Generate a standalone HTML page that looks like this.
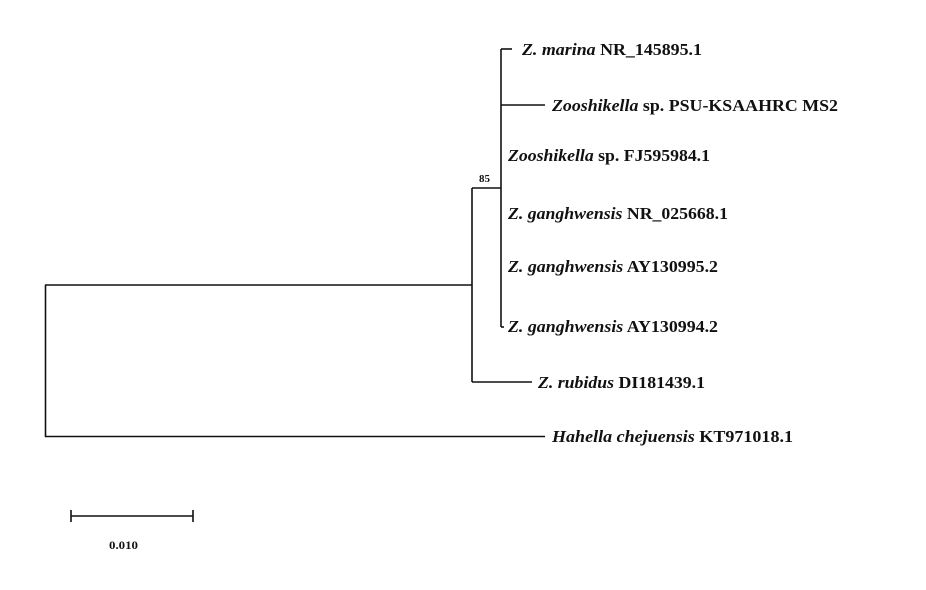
<!DOCTYPE html>
<html><head><meta charset="utf-8">
<style>
html,body{margin:0;padding:0;background:#fff;}
svg{display:block;}
text{font-family:"Liberation Serif",serif;font-weight:bold;font-size:17px;fill:#111;}
</style></head>
<body>
<svg width="926" height="590" viewBox="0 0 926 590" xmlns="http://www.w3.org/2000/svg">
<g stroke="#111" stroke-width="1.6" fill="none">
  <line x1="45.5" y1="285" x2="45.5" y2="437"/>
  <line x1="45" y1="285" x2="472" y2="285"/>
  <line x1="45" y1="436.5" x2="545" y2="436.5"/>
  <line x1="472" y1="188" x2="472" y2="382"/>
  <line x1="472" y1="188" x2="501" y2="188"/>
  <line x1="472" y1="382" x2="532" y2="382"/>
  <line x1="501" y1="49" x2="501" y2="327"/>
  <line x1="501" y1="49" x2="512" y2="49"/>
  <line x1="501" y1="105" x2="545" y2="105"/>
  <line x1="501" y1="327" x2="504" y2="327"/>
  <line x1="71" y1="516" x2="193" y2="516"/>
  <line x1="71" y1="510" x2="71" y2="522"/>
  <line x1="193" y1="510" x2="193" y2="522"/>
</g>
<text x="522" y="55" textLength="180" lengthAdjust="spacingAndGlyphs"><tspan font-style="italic">Z. marina</tspan> NR_145895.1</text>
<text x="552" y="111" textLength="286" lengthAdjust="spacingAndGlyphs"><tspan font-style="italic">Zooshikella</tspan> sp. PSU-KSAAHRC MS2</text>
<text x="508" y="161" textLength="202" lengthAdjust="spacingAndGlyphs"><tspan font-style="italic">Zooshikella</tspan> sp. FJ595984.1</text>
<text x="508" y="219" textLength="220" lengthAdjust="spacingAndGlyphs"><tspan font-style="italic">Z. ganghwensis</tspan> NR_025668.1</text>
<text x="508" y="272" textLength="210" lengthAdjust="spacingAndGlyphs"><tspan font-style="italic">Z. ganghwensis</tspan> AY130995.2</text>
<text x="508" y="332" textLength="210" lengthAdjust="spacingAndGlyphs"><tspan font-style="italic">Z. ganghwensis</tspan> AY130994.2</text>
<text x="538" y="388" textLength="167" lengthAdjust="spacingAndGlyphs"><tspan font-style="italic">Z. rubidus</tspan> DI181439.1</text>
<text x="552" y="442" textLength="241" lengthAdjust="spacingAndGlyphs"><tspan font-style="italic">Hahella chejuensis</tspan> KT971018.1</text>
<text x="479" y="182" style="font-size:11px">85</text>
<text x="109" y="549" style="font-size:12px" textLength="29" lengthAdjust="spacingAndGlyphs">0.010</text>
</svg>
</body></html>
